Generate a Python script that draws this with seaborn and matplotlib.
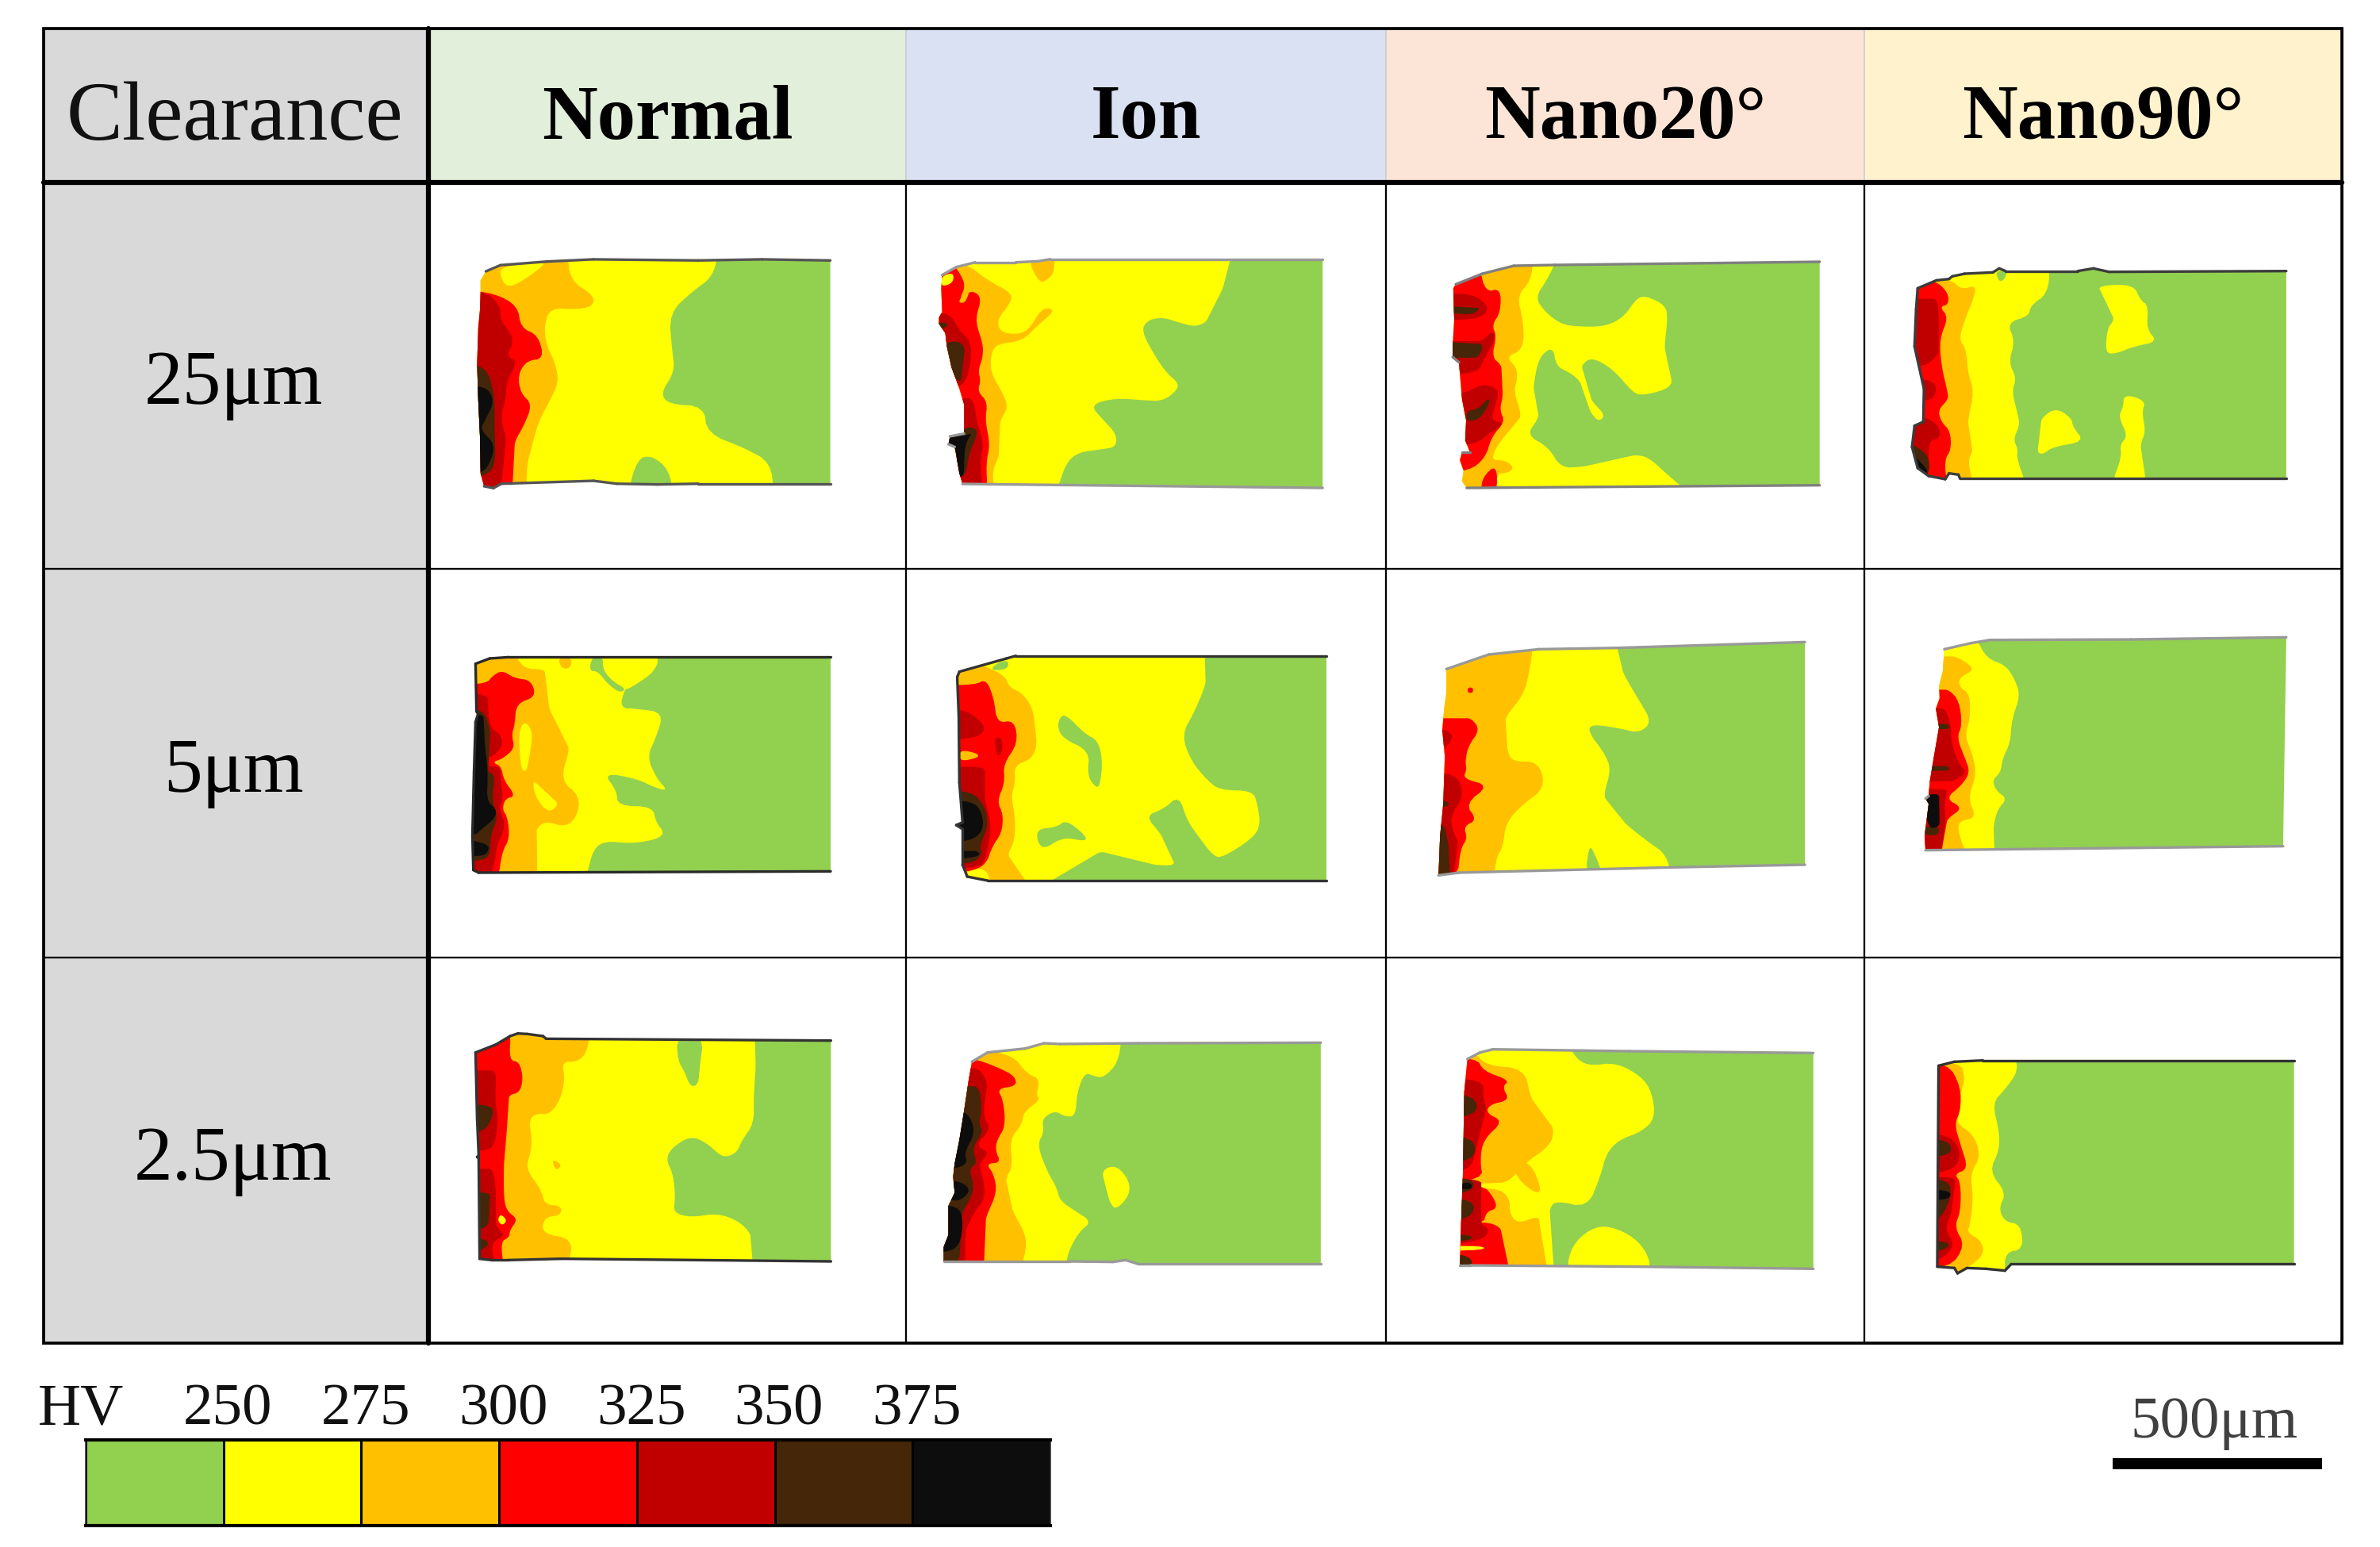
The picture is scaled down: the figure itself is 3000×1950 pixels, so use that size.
import numpy as np
import seaborn as sns
import matplotlib.pyplot as plt
from matplotlib.colors import ListedColormap
from matplotlib.patches import Polygon, Rectangle

sns.set_theme(style="white")
plt.rcParams['font.family'] = ['Liberation Serif', 'DejaVu Serif']

# table text
columns = ["Normal", "Ion", "Nano20°", "Nano90°"]
column_fills = ["#E2EFDA", "#D9E1F2", "#FCE4D6", "#FFF2CC"]
rows = ["25μm", "5μm", "2.5μm"]

# hardness scale
hv_ticks = [250, 275, 300, 325, 350, 375]
hv_bands = [0, 1, 2, 3, 4, 5, 6]
hv_colors = ["#92D050", "#FFFF00", "#FFC000", "#FF0000", "#C00000", "#452608", "#0D0D0D"]
G, Y, O, R, D, B, K = hv_bands

# Hardness zones, in crop pixels of each specimen.
# Zones are painted in order, each one clipped to the specimen outline.
n25_outline = [(1427,715),(1310,712),(1200,715),(1020,712),(940,718),(860,728),(835,745),(826,770),(826,800),(825,850),(822,900),(820,1000),(822,1100),(825,1200),(826,1300),(832,1335),(848,1340),(862,1328),(1020,1320),(1060,1328),(1130,1330),(1200,1328),(1427,1328)]
n25_zones = [
    (Y, [(1235,690),(1225,760),(1190,800),(1150,860),(1155,960),(1160,1020),(1135,1080),(1150,1110),(1210,1115),(1215,1190),(1280,1230),(1325,1270),(1330,1360),(780,1360),(780,690)]),
    (G, [(1078,1360),(1095,1260),(1120,1250),(1150,1290),(1157,1360)]),
    (O, [(975,690),(980,770),(1020,810),(1020,840),(990,850),(945,845),(935,900),(940,950),(955,1000),(960,1050),(945,1100),(925,1160),(915,1220),(905,1280),(905,1360),(780,1360),(780,690)]),
    (Y, [(860,735),(900,725),(945,715),(900,770),(872,790),(860,760)]),
    (R, [(790,795),(850,805),(890,840),(895,900),(925,920),(935,985),(905,990),(890,1030),(895,1080),(915,1110),(900,1170),(885,1210),(880,1360),(790,1360)]),
    (D, [(790,800),(835,800),(860,840),(860,880),(885,930),(870,980),(890,990),(870,1050),(870,1090),(860,1150),(870,1200),(860,1360),(790,1360)]),
    (B, [(790,1000),(835,1005),(850,1080),(850,1180),(852,1280),(830,1310),(790,1300)]),
    (K, [(790,1060),(835,1060),(850,1100),(835,1150),(825,1180),(852,1220),(840,1280),(825,1300),(790,1290)]),
]

i25_outline = [(1308,290),(440,290),(400,298),(330,302),(200,302),(140,320),(95,350),(92,400),(95,490),(85,510),(85,535),(105,570),(110,620),(125,700),(150,780),(165,840),(165,950),(120,960),(115,990),(135,1000),(150,1100),(160,1140),(1308,1155)]
i25_zones = [
    (Y, [(1018,270),(990,400),(935,530),(900,545),(850,530),(800,510),(750,520),(730,560),(770,650),(810,720),(850,760),(840,790),(800,825),(750,825),(650,815),(565,840),(610,900),(650,950),(650,1000),(600,1010),(530,1020),(490,1060),(460,1170),(50,1170),(50,270)]),
    (O, [(165,300),(240,370),(320,420),(310,460),(270,520),(280,565),(330,575),(370,560),(410,480),(440,475),(450,490),(400,540),(350,600),(270,610),(250,650),(250,720),(290,800),(305,850),(280,900),(275,1040),(255,1090),(262,1170),(50,1170),(50,300)]),
    (O, [(365,280),(405,385),(440,360),(453,330),(453,280)]),
    (R, [(130,310),(150,340),(170,390),(150,445),(165,452),(180,410),(210,420),(218,450),(205,500),(205,540),(225,610),(225,660),(210,710),(218,750),(208,790),(240,830),(232,900),(248,990),(235,1060),(240,1170),(50,1170),(50,310)]),
    (O, [(150,445),(165,420),(175,400),(182,415),(168,455),(150,455)]),
    (Y, [(92,395),(92,355),(132,340),(130,380)]),
    (D, [(60,495),(120,495),(150,560),(188,600),(185,700),(170,750),(150,775),(60,770)]),
    (D, [(150,815),(195,815),(205,900),(228,990),(215,1060),(225,1170),(100,1170),(100,900)]),
    (B, [(60,530),(118,530),(100,555),(60,560)]),
    (B, [(105,600),(170,605),(160,700),(155,760),(130,730),(105,650)]),
    (B, [(170,925),(205,930),(205,960),(180,1030),(170,1110),(140,1110),(140,960)]),
    (K, [(105,960),(150,945),(165,960),(192,945),(170,985),(165,1050),(165,1110),(145,1115),(140,1000),(105,995)]),
]

s25_outline = [(1375,300),(530,312),(400,315),(300,345),(215,385),(207,400),(210,520),(205,620),(205,660),(225,680),(235,820),(248,900),(245,975),(260,1020),(235,1020),(228,1050),(240,1090),(235,1130),(250,1155),(1375,1145)]
s25_zones = [
    (Y, [(540,285),(505,370),(468,435),(500,490),(550,535),(600,545),(690,545),(750,510),(790,440),(820,428),(885,465),(890,520),(880,620),(905,760),(880,785),(810,805),(780,795),(720,710),(650,660),(615,690),(650,830),(692,880),(670,905),(645,870),(610,750),(580,720),(535,695),(525,620),(480,660),(462,770),(480,890),(440,955),(510,1000),(550,1080),(620,1075),(790,1030),(830,1040),(890,1105),(960,1175),(100,1175),(100,285)]),
    (O, [(462,285),(455,370),(410,430),(430,520),(432,630),(375,660),(410,700),(410,750),(400,790),(425,880),(410,905),(370,960),(340,1010),(330,1050),(370,1050),(400,1075),(385,1098),(345,1100),(345,1175),(100,1175),(100,285)]),
    (R, [(290,320),(310,415),(358,400),(358,490),(330,540),(345,580),(330,660),(360,690),(365,810),(355,860),(372,905),(330,960),(310,1040),(260,1090),(150,1100),(150,320)]),
    (R, [(295,1175),(300,1115),(345,1065),(348,1175)]),
    (D, [(150,420),(270,420),(322,470),(300,510),(220,522),(150,520)]),
    (D, [(332,558),(342,590),(300,680),(290,710),(240,725),(150,725),(150,600),(300,600)]),
    (D, [(240,800),(300,760),(352,780),(345,830),(325,900),(372,910),(320,950),(290,980),(255,992),(150,990),(150,800)]),
    (B, [(150,465),(295,475),(268,500),(210,495),(150,495)]),
    (B, [(150,600),(305,612),(288,662),(150,665)]),
    (B, [(248,865),(290,855),(318,815),(325,830),(292,895),(250,905)]),
]

p25_outline = [(1345,335),(780,338),(730,325),(680,335),(450,335),(430,325),(410,340),(320,345),(280,355),(270,365),(230,370),(170,400),(165,480),(160,620),(190,780),(188,905),(160,920),(152,1000),(170,1080),(205,1110),(258,1122),(270,1100),(300,1105),(305,1120),(1345,1120)]
p25_zones = [
    (Y, [(592,310),(585,420),(530,465),(525,505),(455,530),(480,600),(460,680),(485,740),(470,790),(490,880),(495,920),(475,970),(490,1010),(485,1040),(518,1150),(100,1150),(100,310)]),
    (G, [(415,335),(460,335),(435,385)]),
    (Y, [(745,390),(858,385),(880,445),(905,465),(900,555),(935,602),(860,620),(800,648),(768,645),(775,550),(797,520)]),
    (Y, [(610,852),(660,890),(665,925),(702,980),(600,1000),(570,1028),(552,1022),(565,890)]),
    (Y, [(828,800),(897,825),(885,870),(897,940),(880,990),(900,1150),(785,1150),(820,1040),(815,990),(840,960),(810,885),(825,850)]),
    (O, [(235,360),(280,372),(310,405),(358,388),(345,450),(330,490),(300,590),(325,630),(330,720),(350,790),(330,900),(345,1020),(330,1050),(348,1150),(100,1150),(100,350)]),
    (R, [(100,370),(235,378),(268,420),(268,462),(240,470),(268,510),(240,590),(245,690),(265,790),(268,820),(235,860),(245,905),(274,940),(277,1010),(255,1050),(264,1150),(100,1150)]),
    (D, [(100,440),(232,440),(237,500),(237,650),(190,700),(100,690)]),
    (D, [(100,745),(190,742),(228,760),(228,800),(205,828),(100,822)]),
    (D, [(100,915),(190,882),(238,920),(242,968),(205,975),(205,1090),(100,1090)]),
    (B, [(140,980),(205,1030),(208,1095),(190,1110),(140,1070)]),
    (K, [(140,1020),(175,1050),(208,1100),(180,1112),(140,1070)]),
]

n5_outline = [(1257,325),(230,325),(170,330),(125,350),(128,530),(133,540),(125,570),(120,760),(115,1000),(118,1130),(135,1140),(1257,1135)]
n5_zones = [
    (Y, [(708,300),(703,375),(615,445),(600,445),(585,518),(640,520),(725,535),(700,630),(672,700),(700,780),(738,830),(700,820),(640,785),(532,762),(575,830),(578,887),(690,890),(700,950),(728,990),(700,1015),(620,1030),(540,1020),(500,1050),(478,1160),(60,1160),(60,300)]),
    (G, [(495,325),(532,325),(530,370),(560,415),(605,445),(585,460),(545,425),(515,378),(488,378)]),
    (O, [(248,310),(280,370),(345,370),(360,520),(425,675),(395,790),(458,850),(448,930),(410,968),(350,945),(320,970),(322,1160),(60,1160),(60,310)]),
    (O, [(388,325),(432,325),(428,368),(398,368)]),
    (Y, [(285,568),(308,610),(297,700),(287,760),(270,748),(263,640),(268,590)]),
    (Y, [(308,790),(390,880),(365,910),(338,892),(312,840)]),
    (R, [(60,430),(160,425),(180,395),(210,375),(250,405),(302,412),(318,475),(255,500),(250,580),(240,620),(250,670),(210,710),(178,722),(207,738),(215,790),(253,850),(220,860),(210,900),(227,930),(234,1010),(210,1060),(198,1160),(60,1160)]),
    (D, [(60,460),(165,465),(165,510),(170,590),(207,620),(212,660),(180,702),(60,720)]),
    (D, [(60,730),(202,740),(212,860),(200,900),(222,960),(192,1040),(190,1080),(172,1160),(60,1160)]),
    (B, [(60,520),(150,520),(172,600),(165,760),(187,770),(177,870),(197,930),(172,1000),(172,1082),(125,1097),(60,1097)]),
    (K, [(60,540),(150,540),(155,660),(165,760),(160,870),(192,900),(187,935),(135,985),(125,997),(60,997)]),
    (K, [(60,1010),(170,1030),(162,1072),(125,1078),(60,1078)]),
]

i5_outline = [(1320,320),(330,320),(300,330),(150,380),(143,400),(148,550),(150,800),(160,950),(140,960),(160,975),(160,1110),(175,1155),(240,1170),(1320,1170)]
i5_zones = [
    (Y, [(932,295),(935,430),(900,530),(858,620),(890,720),(940,790),(980,828),(1085,830),(1100,880),(1110,960),(1085,1010),(990,1082),(960,1078),(910,1000),(875,940),(850,848),(800,900),(743,925),(790,990),(838,1112),(780,1112),(600,1060),(415,1190),(80,1190),(80,295)]),
    (G, [(470,552),(490,542),(550,615),(592,640),(607,720),(597,818),(580,812),(558,770),(565,680),(480,632),(463,590)]),
    (G, [(398,975),(460,968),(490,940),(553,1000),(553,1022),(480,1005),(420,1052),(398,1022)]),
    (G, [(245,375),(280,340),(308,340),(302,372)]),
    (O, [(225,355),(295,395),(310,440),(350,460),(385,520),(392,600),(397,660),(380,710),(325,735),(328,800),(315,850),(327,920),(327,1020),(303,1070),(372,1190),(80,1190),(80,350)]),
    (R, [(80,430),(200,430),(235,408),(260,480),(270,575),(325,563),(337,650),(290,730),(295,800),(270,870),(290,920),(285,990),(255,1040),(235,1110),(180,1138),(80,1138)]),
    (O, [(150,675),(207,688),(212,705),(150,720)]),
    (Y, [(165,1140),(228,1118),(255,1180),(165,1180)]),
    (D, [(80,518),(170,523),(232,580),(222,622),(150,637),(80,637)]),
    (D, [(260,630),(285,628),(288,682),(270,705)]),
    (D, [(80,745),(190,738),(232,745),(232,870),(252,960),(242,1040),(227,1112),(180,1122),(80,1122)]),
    (B, [(80,830),(190,832),(232,890),(242,960),(222,1020),(217,1040),(222,1072),(190,1108),(80,1100)]),
    (K, [(80,868),(190,868),(222,910),(227,980),(185,1022),(80,1022)]),
    (K, [(80,1058),(207,1058),(217,1075),(170,1087),(80,1087)]),
]

s5_outline = [(1328,268),(730,290),(480,295),(320,315),(185,370),(185,460),(178,520),(172,600),(180,700),(175,880),(165,1000),(160,1150),(225,1140),(900,1120),(1328,1110)]
s5_zones = [
    (Y, [(725,265),(750,390),(800,490),(840,570),(800,612),(740,595),(650,578),(636,605),(690,690),(710,750),(685,850),(760,960),(830,1025),(885,1070),(905,1160),(100,1160),(100,265)]),
    (G, [(628,1150),(640,1038),(655,1060),(685,1150)]),
    (O, [(462,275),(450,380),(430,470),(373,550),(380,680),(395,720),(480,720),(500,820),(430,880),(375,950),(365,1045),(345,1080),(336,1165),(100,1165),(100,275)]),
    (R, [(253,440),(270,440),(270,460),(253,460)]),
    (R, [(100,556),(265,556),(292,600),(255,660),(245,720),(250,750),(238,785),(322,810),(245,880),(283,940),(240,965),(252,1010),(230,1050),(220,1165),(100,1165)]),
    (D, [(100,590),(192,600),(207,630),(180,672),(100,672)]),
    (D, [(100,763),(217,763),(242,850),(195,930),(212,1000),(222,1020),(207,1165),(100,1165)]),
    (B, [(100,858),(192,868),(192,892),(100,897)]),
    (B, [(100,950),(175,945),(192,1030),(197,1165),(100,1165)]),
]

p5_outline = [(1345,250),(850,258),(400,260),(340,272),(255,295),(250,380),(238,435),(240,480),(228,520),(238,590),(222,700),(208,800),(205,850),(195,860),(205,880),(192,1000),(195,1055),(1335,1040)]
p5_zones = [
    (Y, [(355,250),(390,330),(450,355),(480,410),(497,470),(470,560),(465,650),(440,710),(435,760),(408,790),(420,830),(455,860),(425,900),(412,960),(415,1080),(100,1080),(100,250)]),
    (O, [(100,325),(290,322),(332,350),(348,375),(300,405),(305,440),(337,465),(337,560),(320,620),(347,700),(357,770),(330,860),(358,932),(300,945),(300,990),(328,1080),(100,1080)]),
    (R, [(100,448),(270,448),(302,490),(312,580),(295,630),(322,710),(337,760),(310,810),(258,860),(315,895),(265,935),(243,1080),(100,1080)]),
    (D, [(100,510),(260,520),(277,590),(277,650),(302,730),(327,760),(290,792),(100,802)]),
    (D, [(100,820),(267,825),(255,870),(260,940),(243,1080),(100,1080)]),
    (B, [(100,576),(270,578),(270,597),(100,600)]),
    (B, [(100,733),(270,738),(270,754),(100,757)]),
    (B, [(190,965),(238,965),(238,998),(190,998)]),
    (K, [(190,848),(238,840),(240,965),(205,975),(190,880)]),
]

n2_outline = [(1258,305),(350,298),(340,288),(290,280),(260,278),(235,288),(190,320),(125,350),(130,600),(135,740),(130,745),(135,750),(138,1130),(175,1135),(230,1135),(400,1130),(1258,1140)]
n2_zones = [
    (Y, [(1015,280),(1018,400),(1012,520),(1012,620),(975,680),(960,725),(930,744),(905,740),(860,690),(810,666),(750,710),(732,755),(755,810),(762,900),(755,955),(810,974),(895,958),(960,985),(1000,1030),(1010,1165),(60,1165),(60,270)]),
    (G, [(766,290),(852,290),(840,400),(835,472),(810,480),(790,420),(770,380)]),
    (O, [(60,270),(490,270),(480,350),(450,385),(400,385),(410,450),(395,530),(360,585),(320,580),(295,605),(305,680),(300,730),(285,790),(335,870),(345,925),(400,930),(395,967),(345,972),(335,1035),(438,1055),(418,1165),(60,1165)]),
    (O, [(368,752),(402,775),(380,798)]),
    (R, [(60,340),(238,270),(232,380),(265,385),(277,450),(265,502),(232,510),(225,640),(215,780),(215,900),(225,950),(260,980),(235,1020),(232,1050),(205,1065),(215,1165),(60,1165)]),
    (Y, [(205,960),(226,985),(210,1005),(195,985)]),
    (D, [(60,418),(192,418),(187,530),(197,600),(187,700),(160,722),(60,722)]),
    (D, [(60,788),(182,790),(190,880),(190,1010),(222,1040),(172,1070),(190,1165),(60,1165)]),
    (B, [(60,546),(177,548),(182,590),(150,655),(60,645)]),
    (B, [(60,878),(172,878),(167,1000),(140,1022),(60,1022)]),
    (B, [(60,1038),(177,1060),(145,1102),(60,1102)]),
]

i2_outline = [(1302,313),(720,315),(470,318),(420,315),(360,335),(240,350),(190,385),(180,450),(165,570),(150,680),(135,770),(130,820),(135,880),(115,930),(115,1040),(100,1085),(100,1140),(500,1140),(640,1142),(680,1135),(720,1150),(1302,1150)]
i2_zones = [
    (Y, [(668,295),(655,390),(610,445),(580,440),(550,425),(525,500),(520,592),(485,592),(455,570),(413,600),(420,650),(398,700),(430,800),(460,860),(470,910),(520,950),(572,990),(530,1030),(495,1110),(490,1165),(50,1165),(50,295)]),
    (Y, [(603,795),(650,775),(692,835),(692,890),(650,945),(630,920),(615,850)]),
    (O, [(215,340),(320,360),(365,430),(407,450),(395,510),(407,530),(355,575),(350,620),(310,680),(320,780),(298,825),(320,950),(362,1040),(362,1100),(345,1165),(50,1165),(50,340)]),
    (R, [(50,380),(205,376),(280,410),(327,440),(332,477),(270,487),(290,530),(297,630),(270,680),(265,720),(282,767),(235,770),(260,810),(270,880),(235,970),(228,1165),(50,1165)]),
    (D, [(50,410),(212,410),(240,460),(235,500),(225,590),(252,640),(200,700),(247,730),(210,770),(227,830),(232,900),(200,950),(170,1020),(168,1165),(50,1165)]),
    (B, [(50,478),(212,478),(222,560),(212,620),(227,650),(190,710),(207,770),(180,790),(197,850),(187,900),(155,960),(155,1050),(148,1165),(50,1165)]),
    (K, [(50,578),(177,578),(202,650),(165,730),(177,770),(130,792),(50,792)]),
    (K, [(50,830),(152,835),(187,870),(157,907),(130,912),(50,880)]),
    (K, [(50,925),(147,930),(162,985),(152,1082),(105,1107),(50,1100)]),
]

s2_outline = [(672,352),(380,345),(165,338),(145,350),(125,375),(120,500),(118,800),(115,1000),(113,1155),(130,1155),(400,1160),(672,1168)]
s2_zones = [
    (Y, [(285,325),(300,380),(320,400),(360,388),(400,440),(417,500),(422,600),(400,650),(365,680),(345,730),(335,820),(315,937),(265,910),(255,940),(262,1180),(60,1180),(60,325)]),
    (Y, [(281,1180),(290,1080),(320,1015),(350,1005),(390,1050),(412,1120),(414,1180)]),
    (O, [(60,345),(135,345),(155,400),(215,410),(225,520),(262,640),(257,700),(215,770),(190,842),(60,852)]),
    (O, [(195,760),(225,765),(243,872),(232,882),(205,830)]),
    (O, [(60,860),(172,860),(192,900),(192,960),(205,997),(237,968),(252,1180),(60,1180)]),
    (R, [(60,370),(140,370),(150,420),(192,455),(180,480),(192,530),(160,547),(155,580),(182,610),(150,680),(145,760),(150,832),(60,842)]),
    (R, [(60,845),(150,850),(167,900),(172,940),(155,952),(150,1002),(60,1002)]),
    (R, [(60,990),(155,990),(177,1010),(192,1180),(60,1180)]),
    (D, [(60,450),(150,450),(150,520),(155,560),(140,700),(130,802),(60,802)]),
    (D, [(60,820),(147,830),(147,1000),(160,1020),(150,1060),(60,1090)]),
    (Y, [(60,1085),(150,1080),(152,1098),(60,1100)]),
    (B, [(60,508),(137,508),(142,590),(60,602)]),
    (B, [(60,668),(137,668),(137,762),(60,767)]),
    (B, [(60,820),(137,825),(132,882),(60,887)]),
    (B, [(60,903),(137,903),(132,982),(60,987)]),
    (B, [(60,1038),(132,1038),(132,1062),(60,1067)]),
    (B, [(60,1113),(132,1113),(132,1180),(60,1180)]),
    (K, [(113,843),(132,843),(132,867),(113,867)]),
]

p2_outline = [(1432,380),(985,380),(940,380),(895,385),(870,400),(868,1160),(895,1165),(900,1185),(915,1165),(945,1168),(975,1175),(985,1150),(1432,1150)]
p2_zones = [
    (Y, [(990,360),(996,420),(975,490),(955,540),(966,650),(966,720),(950,800),(977,880),(965,940),(975,990),(1000,1000),(1004,1095),(975,1105),(975,1195),(820,1195),(820,360)]),
    (O, [(820,385),(905,385),(912,450),(905,500),(900,620),(925,660),(937,740),(920,810),(925,900),(920,1000),(915,1030),(937,1060),(942,1110),(925,1150),(890,1195),(820,1195)]),
    (R, [(820,385),(885,390),(905,480),(905,570),(895,620),(905,700),(917,790),(895,810),(905,840),(905,950),(895,1010),(912,1080),(888,1165),(820,1165)]),
    (D, [(820,650),(890,660),(907,740),(890,802),(820,812)]),
    (D, [(820,820),(897,820),(890,960),(880,1020),(897,1080),(870,1142),(820,1142)]),
    (B, [(820,678),(887,678),(892,742),(820,747)]),
    (B, [(820,828),(887,828),(890,900),(870,992),(820,992)]),
    (B, [(820,1063),(890,1063),(880,1102),(820,1102)]),
    (K, [(850,868),(890,873),(887,907),(850,907)]),
]

# origin and scale of the crop each specimen was read from, edge colour,
# and whether the cut face on the left has a visible edge too
specimens = [
    [(n25_outline, n25_zones, 0, 0, 1.3635, 2.178, "#555555", False),
     (i25_outline, i25_zones, 1150, 230, 2.529, 3, "#999999", False),
     (s25_outline, s25_zones, 1750, 230, 2.529, 3, "#808080", False),
     (p25_outline, p25_zones, 2350, 230, 2.529, 3, "#3C3C3C", True)],
    [(n5_outline, n5_zones, 550, 720, 2.529, 3, "#2A2A2A", True),
     (i5_outline, i5_zones, 1150, 720, 2.529, 3, "#333333", True),
     (s5_outline, s5_zones, 1750, 720, 2.529, 3, "#999999", False),
     (p5_outline, p5_zones, 2350, 720, 2.529, 3, "#999999", False)],
    [(n2_outline, n2_zones, 550, 1210, 2.529, 3, "#333333", True),
     (i2_outline, i2_zones, 1150, 1210, 2.529, 3, "#999999", False),
     (s2_outline, s2_zones, 1750, 1210, 1.2544, 3, "#999999", False),
     (p2_outline, p2_zones, 1750, 1210, 1.2544, 3, "#333333", True)],
]

col_edges = [55, 540, 1142, 1747, 2350, 2952]
row_edges = [36, 230, 717, 1207, 1693]
header_base = 174
row_bases = [509, 998, 1487]


def smooth(pts, passes=2):
    # corner cutting, the contours in the picture are rounded.
    # long runs get extra points near their ends so big corners stay in place
    pts = np.array(pts, dtype=float)
    dense = []
    for a, b in zip(pts, np.roll(pts, -1, axis=0)):
        dense.append(a)
        length = np.hypot(*(b - a))
        if length > 120:
            dense.append(a + (b - a) * 30 / length)
            dense.append(b - (b - a) * 30 / length)
    pts = np.array(dense)
    for _ in range(passes):
        nxt = np.roll(pts, -1, axis=0)
        pts = np.column_stack([0.75 * pts + 0.25 * nxt, 0.25 * pts + 0.75 * nxt]).reshape(-1, 2)
    return pts


fig = plt.figure(figsize=(10, 6.5), dpi=300, facecolor="white")
ax = fig.add_axes([0, 0, 1, 1])
ax.set_xlim(0, 3000)
ax.set_ylim(1950, 0)
ax.axis("off")

# table cells
grey = "#D9D9D9"
ax.add_patch(Rectangle((col_edges[0], row_edges[0]), col_edges[1] - col_edges[0], row_edges[-1] - row_edges[0], fc=grey, ec="none"))
for c, fill in enumerate(column_fills):
    ax.add_patch(Rectangle((col_edges[c + 1], row_edges[0]), col_edges[c + 2] - col_edges[c + 1], row_edges[1] - row_edges[0], fc=fill, ec="none"))

# specimens
for r, row in enumerate(specimens):
    for c, (outline, zones, ox, oy, sx, sy, edge, left_edge) in enumerate(row):
        scale = np.array([sx, sy])
        origin = np.array([ox, oy])
        body = np.array(outline) / scale + origin
        clip = Polygon(body, closed=True, fc=hv_colors[G], ec="none", zorder=2)
        ax.add_patch(clip)
        for band, pts in zones:
            xy = smooth(pts) / scale + origin
            patch = Polygon(xy, closed=True, fc=hv_colors[band], ec="none", zorder=2)
            ax.add_patch(patch)
            patch.set_clip_path(clip)
        for a, b in zip(body[:-1], body[1:]):
            if left_edge or abs(b[0] - a[0]) >= abs(b[1] - a[1]):
                ax.plot([a[0], b[0]], [a[1], b[1]], color=edge, lw=0.8, zorder=3, solid_capstyle="round")

# grid lines, the header cells only have a faint divider
for x in col_edges[2:5]:
    ax.plot([x, x], [row_edges[1], row_edges[-1]], color="black", lw=0.55, zorder=4)
    ax.plot([x, x], [row_edges[0], row_edges[1]], color="#C8CCD4", lw=0.4, zorder=1)
for y in row_edges[2:4]:
    ax.plot([col_edges[0], col_edges[-1]], [y, y], color="black", lw=0.55, zorder=4)
ax.plot([col_edges[1], col_edges[1]], [row_edges[0], row_edges[-1]], color="black", lw=1.5, zorder=4)
ax.plot([col_edges[0], col_edges[-1]], [row_edges[1], row_edges[1]], color="black", lw=1.5, zorder=4)
ax.add_patch(Rectangle((col_edges[0], row_edges[0]), col_edges[-1] - col_edges[0], row_edges[-1] - row_edges[0], fc="none", ec="black", lw=0.9, zorder=4))

# table text
ax.text((col_edges[0] + col_edges[1]) / 2 - 2, header_base + 2, "Clearance", fontsize=25.5, ha="center", va="baseline", color="#111111")
for c, name in enumerate(columns):
    ax.text((col_edges[c + 1] + col_edges[c + 2]) / 2, header_base, name, fontsize=23.2, fontweight="bold", ha="center", va="baseline", color="black")
for r, name in enumerate(rows):
    ax.text(294, row_bases[r], name, fontsize=23.4, ha="center", va="baseline", color="black")

# hardness scale
legend_ax = fig.add_axes([108 / 3000, 1 - 1923 / 1950, (1324 - 108) / 3000, 108 / 1950])
sns.heatmap(np.array([hv_bands]), cmap=ListedColormap(hv_colors), cbar=False, linewidths=0.35,
            linecolor="black", ax=legend_ax)
legend_ax.xaxis.tick_top()
legend_ax.set_xticks(np.arange(1, 7) + 0.03, hv_ticks, rotation=0, fontsize=18)
legend_ax.set_yticks([])
legend_ax.tick_params(length=0, pad=0.8, colors="#111111")
for side in ["top", "bottom"]:
    legend_ax.spines[side].set_visible(True)
    legend_ax.spines[side].set_color("black")
    legend_ax.spines[side].set_linewidth(1.0)
for side in ["left", "right"]:
    legend_ax.spines[side].set_visible(True)
    legend_ax.spines[side].set_color("#333333")
    legend_ax.spines[side].set_linewidth(0.4)
ax.text(102, 1795, "HV", fontsize=18, ha="center", va="baseline", color="#111111")

# scale bar
ax.add_patch(Rectangle((2663, 1838), 264, 14, fc="black", ec="none"))
ax.text(2791, 1812, "500μm", fontsize=18, ha="center", va="baseline", color="#404040")

fig.savefig("out.png", dpi=300)
